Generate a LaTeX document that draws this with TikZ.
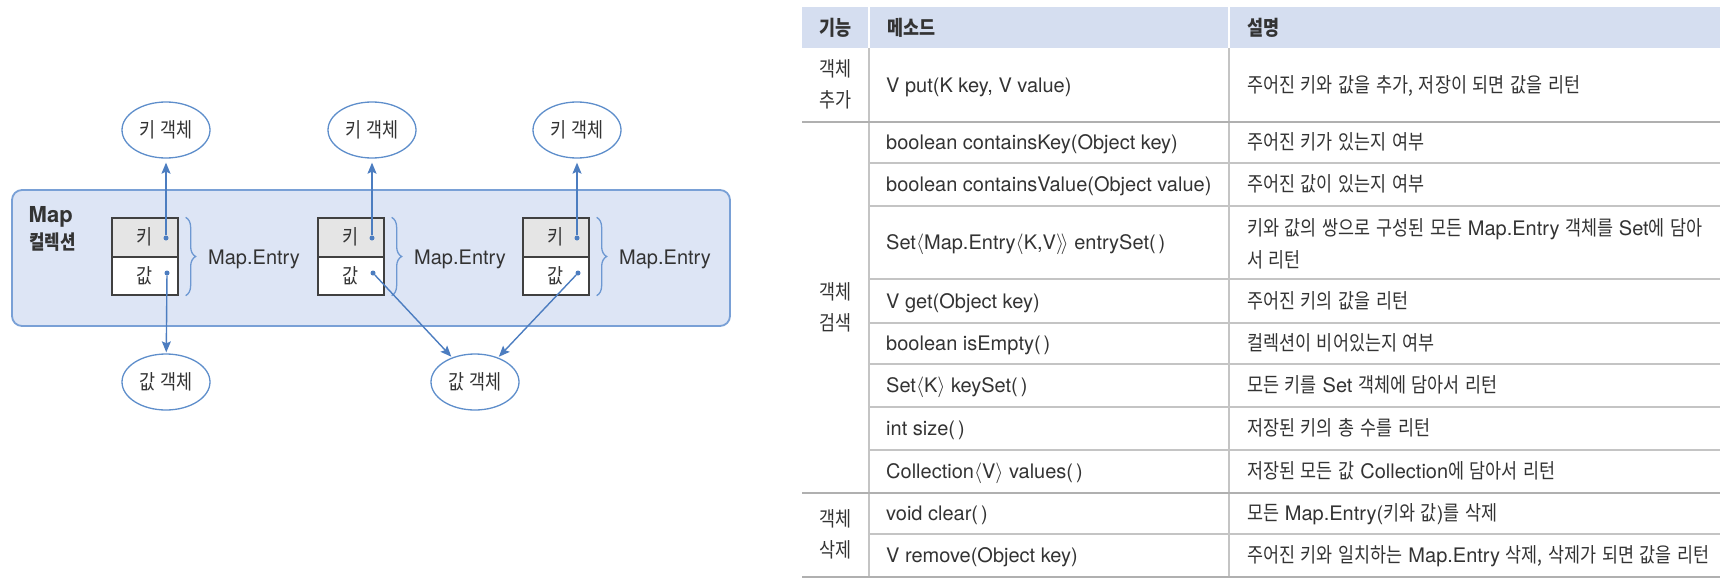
\documentclass[tikz,border=0pt]{standalone}
\usepackage{fontspec}
\setmainfont{TeX Gyre Heros}
\newfontfamily\lat{TeX Gyre Heros}
\newfontfamily\kr{Noto Sans CJK KR}[FakeStretch=0.85,WordSpace=1.45]
\usetikzlibrary{shapes.geometric,arrows.meta,decorations.pathreplacing}
\definecolor{txt}{HTML}{333333}
\definecolor{panelfill}{HTML}{DDE5F5}
\definecolor{panelline}{HTML}{79A0D6}
\definecolor{ellline}{HTML}{5E8ECB}
\definecolor{arrc}{HTML}{4C7DC0}
\definecolor{boxline}{HTML}{404040}
\definecolor{keyfill}{HTML}{E5E5E5}
\definecolor{bracec}{HTML}{6D98D2}
\definecolor{hdrfill}{HTML}{D5DEF0}
\definecolor{tlinec}{HTML}{C4C4C4}
\definecolor{glinec}{HTML}{B0B0B0}
\newcommand\La[1]{{\lat\fontsize{20}{24}\selectfont #1}}
\tikzset{
  ktxt/.style={font=\kr\fontsize{20.5}{24}\selectfont, text=txt, inner sep=0pt, text height=14.5pt, text depth=0pt},
  kbold/.style={font=\kr\bfseries\fontsize{20.5}{24}\selectfont, text=txt, inner sep=0pt, text height=14.5pt, text depth=0pt},
  ltxt/.style={font=\lat\fontsize{20}{24}\selectfont, text=txt, inner sep=0pt, text height=14pt, text depth=0pt},
  ell/.style={ellipse, draw=ellline, line width=1.3pt, fill=white, minimum width=88pt, minimum height=56pt, ktxt},
  keycell/.style={rectangle, draw=boxline, line width=1.3pt, fill=keyfill, minimum width=66pt, minimum height=39pt, ktxt},
  valcell/.style={rectangle, draw=boxline, line width=1.3pt, fill=white, minimum width=66pt, minimum height=38pt, ktxt},
  dot/.style={circle, fill=arrc, minimum size=5pt, inner sep=0pt},
  arr/.style={draw=arrc, line width=1.4pt, -{Stealth[length=11pt,width=9pt,inset=2pt]}},
  bracest/.style={draw=bracec, line width=1.3pt, decorate, decoration={brace, amplitude=10pt}},
  panelst/.style={fill=panelfill, draw=panelline, line width=1.8pt, rounded corners=10pt},
  tline/.style={draw=tlinec, line width=1.8pt},
  gline/.style={draw=glinec, line width=2.2pt},
}
\begin{document}
\begin{tikzpicture}[x=1pt,y=-1pt]
\useasboundingbox (0,0) rectangle (1728,581);
% ---------- left diagram ----------
\draw[panelst] (12,190) rectangle (730,326);
\node[font=\lat\bfseries\fontsize{22}{26}\selectfont, text=txt, inner sep=0pt, anchor=base west] (maplbl) at (28.5,222) {Map};
\node[font=\kr\bfseries\fontsize{19.8}{24}\selectfont, text=txt, inner sep=0pt, anchor=base west] (coll) at (29,249) {컬렉션};

\foreach \i/\x in {1/112,2/318,3/523}{
  \node[keycell] (kc\i) at (\x+33,237.5) {키};
  \node[valcell] (vc\i) at (\x+33,276) {값};
  \node[dot] (kd\i) at (\x+54,238) {};
  \node[dot] (vd\i) at (\x+55,273) {};
  \draw[bracest] ([xshift=7pt]kc\i.north east) -- ([xshift=7pt]vc\i.south east);
  \node[ltxt, anchor=west] (me\i) at (\x+96,257) {Map.Entry};
  \node[ell] (tk\i) at (\x+54,130) {키 객체};
}
\node[ell] (bv1) at (166,382) {값 객체};
\node[ell] (bv2) at (475,382) {값 객체};

\foreach \i in {1,2,3}{ \draw[arr, shorten >=4pt] (kd\i) -- (tk\i); }
\draw[arr, shorten >=1pt] (vd1) -- (bv1);
\draw[arr, shorten >=1pt] (vd2) -- (bv2);
\draw[arr, shorten >=1pt] (vd3) -- (bv2);

% ---------- table ----------
\fill[hdrfill] (802,7) rectangle (1720,48);
\draw[white, line width=2pt] (869,7) -- (869,48);
\draw[white, line width=2pt] (1229,7) -- (1229,48);
\draw[tline] (869,48) -- (869,577);
\draw[tline] (1229,48) -- (1229,577);
\foreach \y in {163,206,279,323,364,407,450,534}{ \draw[tline] (869,\y) -- (1720,\y); }
\foreach \y in {122,493,577}{ \draw[gline] (802,\y) -- (1720,\y); }

% header
\node[kbold] (h1) at (835.5,28) {기능};
\node[kbold, anchor=west] (h2) at (887,28) {메소드};
\node[kbold, anchor=west] (h3) at (1247,28) {설명};

% column 1
\node[ktxt] (g1a) at (835.5,69.5) {객체};
\node[ktxt] (g1b) at (835.5,100.5) {추가};
\node[ktxt] (g2a) at (835.5,292) {객체};
\node[ktxt] (g2b) at (835.5,323) {검색};
\node[ktxt] (g3a) at (835.5,519.5) {객체};
\node[ktxt] (g3b) at (835.5,550.5) {삭제};

% column 2
\tikzset{m/.style={ltxt, anchor=west}}
\node[m] (m1) at (886,85) {V put(K key, V value)};
\node[m] (m2) at (886,142.5) {boolean containsKey(Object key)};
\node[m] (m3) at (886,184.5) {boolean containsValue(Object value)};
\node[m] (m4) at (886,242.5) {Set$\langle$Map.Entry$\langle$K,V$\rangle\!\rangle$ entrySet(\kern3pt)};
\node[m] (m5) at (886,301) {V get(Object key)};
\node[m] (m6) at (886,343.5) {boolean isEmpty(\kern3pt)};
\node[m] (m7) at (886,385.5) {Set$\langle$K$\rangle$ keySet(\kern3pt)};
\node[m] (m8) at (886,428.5) {int size(\kern3pt)};
\node[m] (m9) at (886,471.5) {Collection$\langle$V$\rangle$ values(\kern3pt)};
\node[m] (m10) at (886,513.5) {void clear(\kern3pt)};
\node[m] (m11) at (886,555.5) {V remove(Object key)};

% column 3
\tikzset{d/.style={ktxt, anchor=west}}
\node[d] (d1) at (1247,85) {주어진 키와 값을 추가, 저장이 되면 값을 리턴};
\node[d] (d2) at (1247,142.5) {주어진 키가 있는지 여부};
\node[d] (d3) at (1247,184.5) {주어진 값이 있는지 여부};
\node[d] (d4a) at (1247,228) {키와 값의 쌍으로 구성된 모든 \La{Map.Entry} 객체를 \La{Set}에 담아};
\node[d] (d4b) at (1247,260) {서 리턴};
\node[d] (d5) at (1247,301) {주어진 키의 값을 리턴};
\node[d] (d6) at (1247,343.5) {컬렉션이 비어있는지 여부};
\node[d] (d7) at (1247,385.5) {모든 키를 \La{Set} 객체에 담아서 리턴};
\node[d] (d8) at (1247,428.5) {저장된 키의 총 수를 리턴};
\node[d] (d9) at (1247,471.5) {저장된 모든 값 \La{Collection}에 담아서 리턴};
\node[d] (d10) at (1247,513.5) {모든 \La{Map.Entry(}키와 값\La{)}를 삭제};
\node[d] (d11) at (1247,555.5) {주어진 키와 일치하는 \La{Map.Entry} 삭제, 삭제가 되면 값을 리턴};
\end{tikzpicture}
\end{document}
